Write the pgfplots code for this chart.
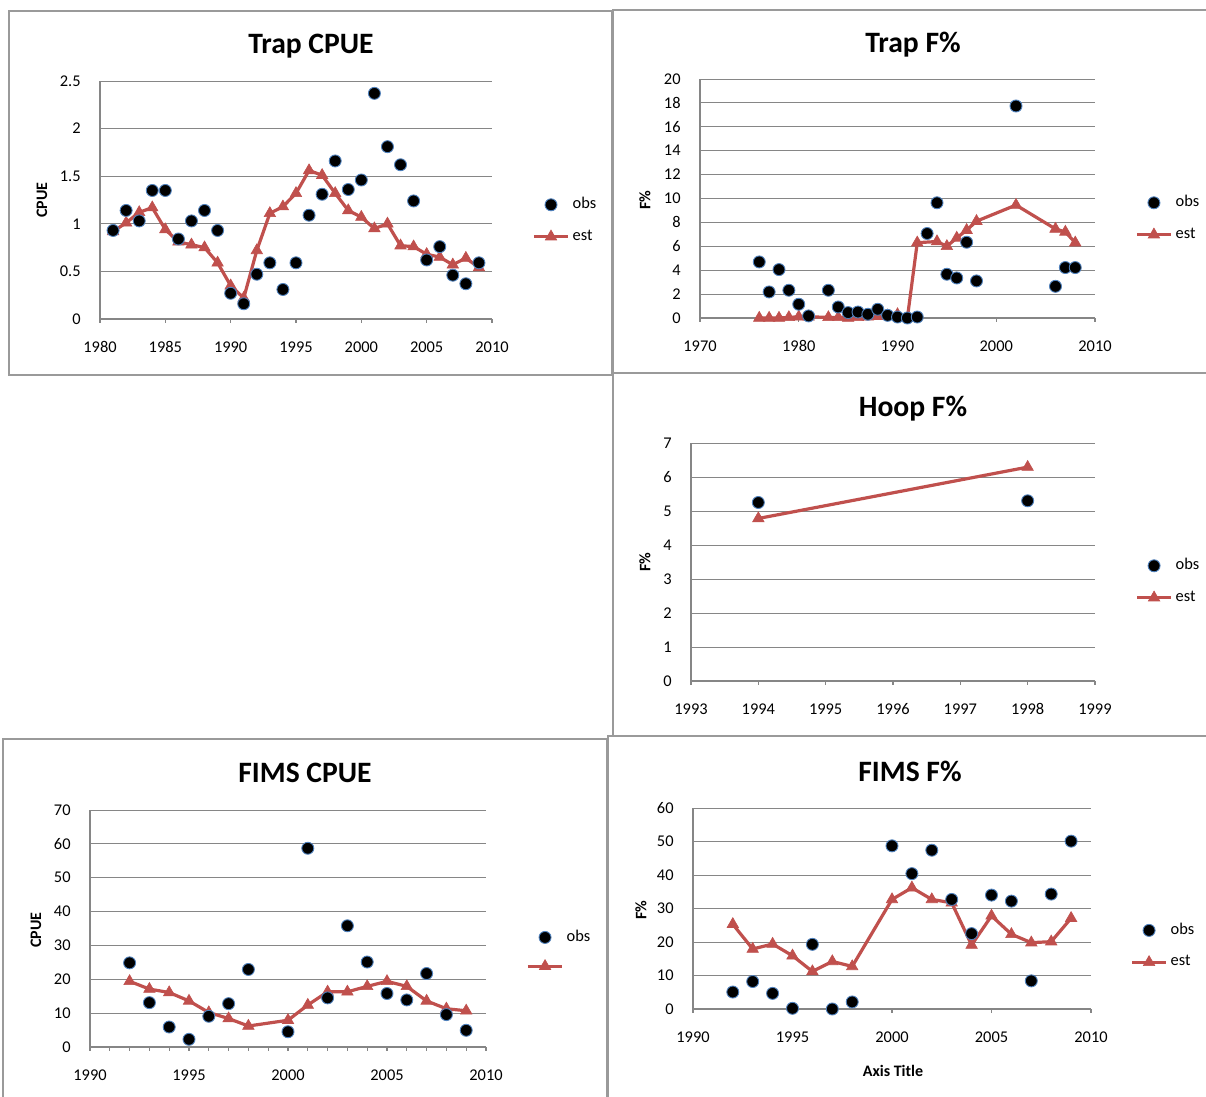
\documentclass[border=0pt]{standalone}
\usepackage{fontspec}
\setmainfont{Carlito}
\usepackage{pgfplots}
\pgfplotsset{compat=1.18}
\definecolor{estc}{HTML}{C0504D}
\definecolor{obsedge}{HTML}{4F81BD}
\definecolor{gridc}{HTML}{868686}
\definecolor{framec}{HTML}{9A9A9A}
\pgfplotsset{
  excel/.style={
    scale only axis,
    axis x line=bottom, axis y line=left,
    axis line style={-, draw=gridc, line width=0.7pt},
    ymajorgrids, grid style={draw=gridc, line width=0.45pt},
    tick align=outside,
    major tick length=2pt,
    minor tick length=2pt,
    xtick style={draw=gridc, line width=0.6pt},
    ytick style={draw=none},
    tick label style={font=\fontsize{8.2}{9.8}\selectfont},
    /pgf/number format/assume math mode=true,
    xticklabel style={anchor=center, yshift=-12pt, /pgf/number format/1000 sep={}},
    yticklabel style={anchor=east, inner sep=0pt, xshift=-7.5pt},
    clip=false,
    legend style={draw=none, fill=none, font=\fontsize{8.2}{9.8}\selectfont, anchor=west, inner sep=0pt, row sep=6pt, nodes={inner sep=1.5pt}, yshift=-1pt, xshift=-1pt},
    legend cell align=left,
    reverse legend,
  },
  obs/.style={only marks, mark=*, mark size=3pt, mark options={fill=black, draw=obsedge, line width=0.45pt}},
  est/.style={color=estc, line width=1.6pt, mark=triangle*, mark size=3.3pt, mark options={fill=estc, draw=estc, line width=0.3pt, solid}},
}
\begin{document}
\begin{tikzpicture}
\useasboundingbox (0,0) rectangle (603pt,548.5pt);
\fill[white] (0,0) rectangle (603pt,548.5pt);
% frames
\draw[framec, line width=0.6pt] (4.5pt,543pt) rectangle (306pt,361pt);
\draw[framec, line width=0.6pt] (306.5pt,543.5pt) rectangle (606pt,362pt);
\draw[framec, line width=0.6pt] (306.5pt,362pt) rectangle (606pt,180.5pt);
\draw[framec, line width=0.6pt] (1.5pt,179pt) rectangle (303.5pt,-2pt);
\draw[framec, line width=0.6pt] (304pt,180.5pt) rectangle (606pt,-2pt);
% titles
\begin{scope}[every node/.style={font=\bfseries\fontsize{14.8}{17}\selectfont}]
\node at (155.5pt,525.2pt) {Trap CPUE};
\node at (456.5pt,526.4pt) {Trap F\%};
\node at (456.5pt,344.4pt) {Hoop F\%};
\node at (152.5pt,162pt) {FIMS CPUE};
\node at (455pt,162.8pt) {FIMS F\%};
\end{scope}
\begin{scope}[every node/.style={font=\bfseries\fontsize{8}{9.6}\selectfont}]
\node[rotate=90] at (21pt,448.5pt) {CPUE};
\node[rotate=90] at (322.5pt,448.5pt) {F\%};
\node[rotate=90] at (322.5pt,267.5pt) {F\%};
\node[rotate=90] at (18pt,83.5pt) {CPUE};
\node[rotate=90] at (320.5pt,93.5pt) {F\%};
\node at (446.5pt,13pt) {Axis Title};
\end{scope}

% Trap CPUE
\begin{axis}[excel, at={(50pt,389pt)}, anchor=south west, width=196pt, height=119pt,
  xmin=1980, xmax=2010, ymin=0, ymax=2.5, xtick={1980,1985,1990,1995,2000,2005,2010},
  ytick={0,0.5,1,1.5,2,2.5}, legend style={at={(1.107,0.4223)}}]
\addplot[est] table {
1981 0.92
1982 1.01
1983 1.12
1984 1.17
1985 0.94
1986 0.81
1987 0.78
1988 0.75
1989 0.59
1990 0.35
1991 0.22
1992 0.72
1993 1.11
1994 1.18
1995 1.32
1996 1.56
1997 1.51
1998 1.32
1999 1.14
2000 1.07
2001 0.95
2002 1.00
2003 0.77
2004 0.76
2005 0.68
2006 0.65
2007 0.57
2008 0.64
2009 0.54
};
\addlegendentry{est}
\addplot[obs] table {
1981 0.93
1982 1.14
1983 1.03
1984 1.35
1985 1.35
1986 0.84
1987 1.03
1988 1.14
1989 0.93
1990 0.27
1991 0.16
1992 0.47
1993 0.59
1994 0.31
1995 0.59
1996 1.09
1997 1.31
1998 1.66
1999 1.36
2000 1.46
2001 2.37
2002 1.81
2003 1.62
2004 1.24
2005 0.62
2006 0.76
2007 0.46
2008 0.37
2009 0.59
};
\addlegendentry{obs}
\end{axis}

% Trap F%
\begin{axis}[excel, at={(350pt,389.5pt)}, anchor=south west, width=197.5pt, height=119.5pt,
  xmin=1970, xmax=2010, ymin=0, ymax=20, xtick={1970,1980,1990,2000,2010},
  ytick={0,2,4,6,8,10,12,14,16,18,20}, legend style={at={(1.106,0.4247)}}]
\addplot[est] table {
1976 0
1977 0
1978 0
1979 0.05
1980 0.1
1981 0.1
1983 0.05
1984 0.05
1985 0
1986 0.05
1987 0.1
1988 0.15
1989 0.2
1990 0.3
1991 0
1992 6.3
1994 6.4
1995 6.0
1996 6.7
1997 7.35
1998 8.1
2002 9.45
2006 7.45
2007 7.2
2008 6.3
};
\addlegendentry{est}
\addplot[obs] table {
1976 4.69
1977 2.18
1978 4.05
1979 2.32
1980 1.15
1981 0.17
1983 2.32
1984 0.92
1985 0.45
1986 0.5
1987 0.31
1988 0.73
1989 0.22
1990 0.08
1991 0
1992 0.08
1993 7.07
1994 9.64
1995 3.66
1996 3.35
1997 6.34
1998 3.1
2002 17.74
2006 2.65
2007 4.22
2008 4.22
};
\addlegendentry{obs}
\end{axis}

% Hoop F%
\begin{axis}[excel, at={(345.5pt,208pt)}, anchor=south west, width=202pt, height=119pt,
  xmin=1993, xmax=1999, ymin=0, ymax=7, xtick={1993,1994,1995,1996,1997,1998,1999},
  ytick={0,1,2,3,4,5,6,7}, legend style={at={(1.104,0.4265)}}]
\addplot[est] table {
1994 4.78
1998 6.29
};
\addlegendentry{est}
\addplot[obs] table {
1994 5.25
1998 5.30
};
\addlegendentry{obs}
\end{axis}

% FIMS CPUE
\begin{axis}[excel, at={(45pt,25pt)}, anchor=south west, width=198pt, height=118.5pt,
  xmin=1990, xmax=2010, ymin=0, ymax=70, xtick={1990,1995,2000,2005,2010},
  minor x tick num=4,
  ytick={0,10,20,30,40,50,60,70}, legend style={at={(1.106,0.422)}}]
\addplot[est] table {
1992 19.4
1993 17.1
1994 16.1
1995 13.6
1996 10.2
1997 8.4
1998 6.2
2000 7.9
2001 12.4
2002 16.3
2003 16.3
2004 17.9
2005 19.4
2006 17.9
2007 13.6
2008 11.3
2009 10.7
};
\addlegendentry{}
\addplot[obs] table {
1992 24.85
1993 13.1
1994 5.9
1995 2.27
1996 9.07
1997 12.8
1998 22.9
2000 4.5
2001 58.7
2002 14.5
2003 35.8
2004 25.1
2005 15.8
2006 13.9
2007 21.7
2008 9.57
2009 4.93
};
\addlegendentry{obs}
\end{axis}

% FIMS F%
\begin{axis}[excel, at={(346.5pt,44pt)}, anchor=south west, width=199pt, height=100.5pt,
  xmin=1990, xmax=2010, ymin=0, ymax=60, xtick={1990,1995,2000,2005,2010},
  ytick={0,10,20,30,40,50,60}, legend style={at={(1.103,0.323)}}]
\addplot[est] table {
1992 25.3
1993 17.9
1994 19.4
1995 15.9
1996 11.2
1997 14.2
1998 12.7
2000 32.7
2001 36.2
2002 32.7
2003 31.7
2004 19.1
2005 27.8
2006 22.3
2007 19.8
2008 20.1
2009 27.1
};
\addlegendentry{est}
\addplot[obs] table {
1992 5.06
1993 8.2
1994 4.66
1995 0.2
1996 19.3
1997 0
1998 2.1
2000 48.7
2001 40.4
2002 47.4
2003 32.7
2004 22.5
2005 34.0
2006 32.2
2007 8.4
2008 34.3
2009 50.1
};
\addlegendentry{obs}
\end{axis}
\end{tikzpicture}
\end{document}
